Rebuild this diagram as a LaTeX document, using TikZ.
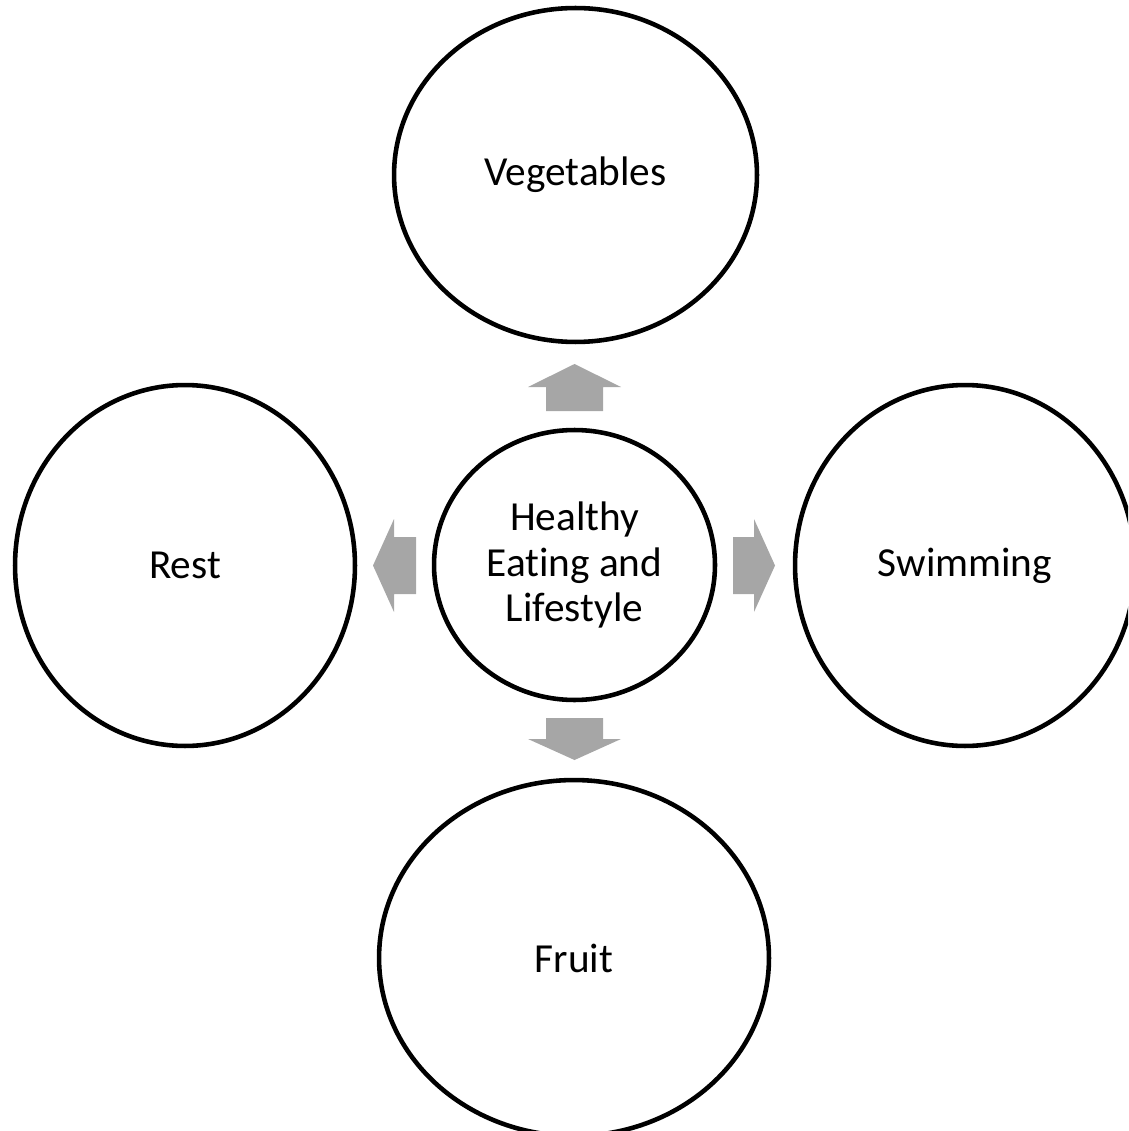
\documentclass[tikz,border=0pt]{standalone}
\usepackage{fontspec}
\setmainfont[Ligatures=NoCommon]{Carlito}
\usetikzlibrary{shapes.geometric}

\definecolor{arrowgray}{RGB}{166,166,166}

\tikzset{
  bubble/.style={draw, ellipse, line width=2.6pt, inner sep=0pt,
    font=\fontsize{23.5}{25.8}\selectfont, align=center},
}

\begin{document}
\begin{tikzpicture}[x=0.02cm, y=-0.02cm]
    \useasboundingbox (0,0) rectangle (1128,1131);
    \clip (0,0) rectangle (1128,1131);

    % Centre
    \node[bubble, minimum width=5.62cm, minimum height=5.4cm] (hub) at (574.5,565)
      {Healthy\\Eating and\\Lifestyle};

    % Outer bubbles
    \node[bubble, minimum width=7.26cm, minimum height=6.68cm] (veg) at (575.5,175) {Vegetables};
    \node[bubble, minimum width=6.8cm, minimum height=7.22cm] (rest) at (185,565.5) {Rest};
    \node[bubble, minimum width=6.8cm, minimum height=7.22cm] (swim) at (965,565.5) {Swimming};
    \node[bubble, minimum width=7.8cm, minimum height=7.12cm] (fruit) at (574,958) {Fruit};

    % Block arrows
    \fill[arrowgray] (546,411) -- (546,387) -- (528,387) -- (574.5,364)
      -- (621,387) -- (603,387) -- (603,411) -- cycle;
    \fill[arrowgray] (733,537) -- (754,537) -- (754,519) -- (775,565.5)
      -- (754,612) -- (754,594) -- (733,594) -- cycle;
    \fill[arrowgray] (416,537) -- (394,537) -- (394,519) -- (373,565.5)
      -- (394,612) -- (394,594) -- (416,594) -- cycle;
    \fill[arrowgray] (546,718) -- (546,739) -- (528,739) -- (574.5,760)
      -- (621,739) -- (603,739) -- (603,718) -- cycle;

\end{tikzpicture}
\end{document}
